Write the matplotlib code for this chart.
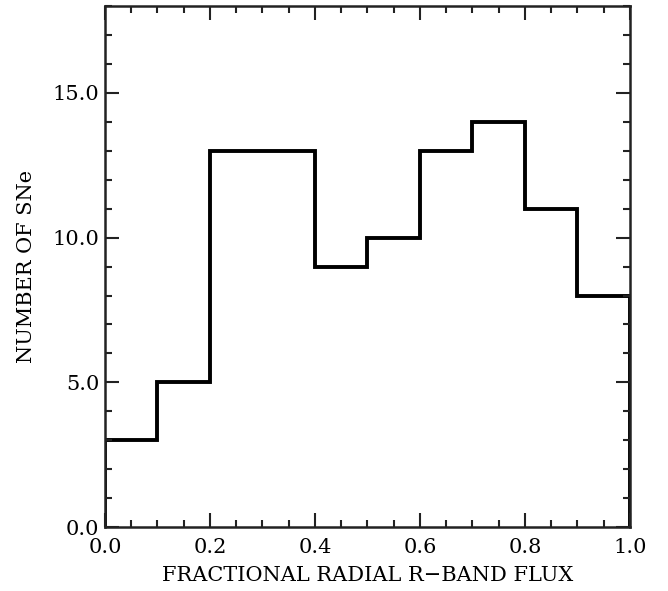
import matplotlib
matplotlib.use("Agg")
import matplotlib.pyplot as plt
import numpy as np
from matplotlib.ticker import MultipleLocator, FormatStrFormatter

# histogram values
bin_edges = [0.0, 0.1, 0.2, 0.3, 0.4, 0.5, 0.6, 0.7, 0.8, 0.9, 1.0]
counts = [3, 5, 13, 13, 9, 10, 13, 14, 11, 8]

plt.rcParams["font.family"] = "DejaVu Serif"

fig = plt.figure(figsize=(6.68, 5.91), dpi=100)
ax = fig.add_axes([0.157, 0.108, 0.786, 0.882])

ax.stairs(counts, bin_edges, baseline=0, color="black", linewidth=2.8)

ax.set_xlim(0, 1.0)
ax.set_ylim(0, 18)
ax.xaxis.set_major_locator(MultipleLocator(0.2))
ax.xaxis.set_minor_locator(MultipleLocator(0.05))
ax.yaxis.set_major_locator(MultipleLocator(5))
ax.yaxis.set_minor_locator(MultipleLocator(1))
ax.xaxis.set_major_formatter(FormatStrFormatter("%.1f"))
ax.yaxis.set_major_formatter(FormatStrFormatter("%.1f"))

ax.tick_params(which="both", direction="in", top=True, right=True,
               width=1.5, color="#222222", labelsize=15)
ax.tick_params(axis="x", pad=8)
ax.tick_params(axis="y", pad=4)
ax.tick_params(which="major", length=10)
ax.tick_params(which="minor", length=5)
for s in ax.spines.values():
    s.set_linewidth(1.8)
    s.set_color("#222222")

ax.set_xlabel("FRACTIONAL RADIAL R\u2212BAND FLUX", fontsize=15, labelpad=6)
ax.set_ylabel("NUMBER OF SNe", fontsize=15, labelpad=12)

fig.savefig("out.png", dpi=100)
